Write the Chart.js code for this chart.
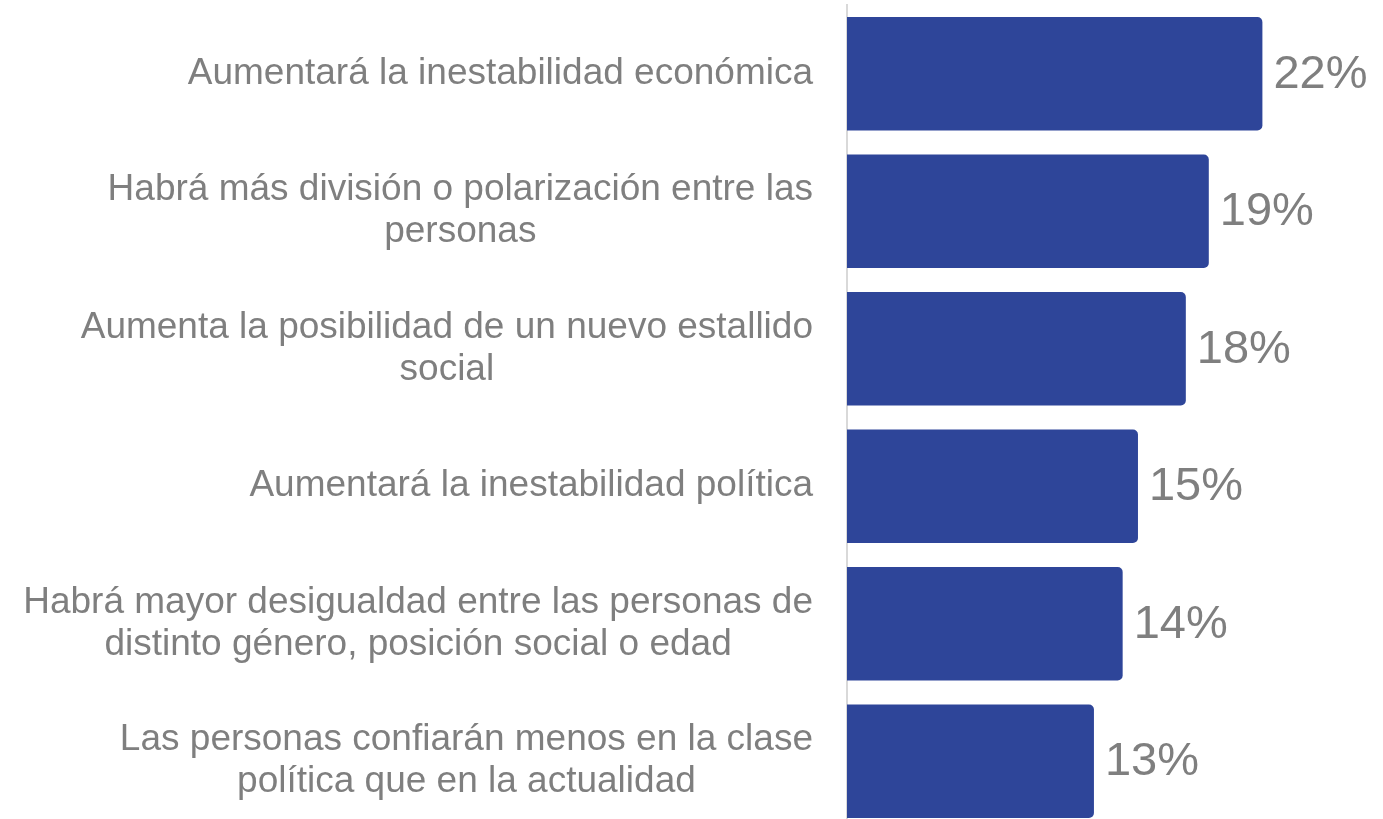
<!DOCTYPE html>
<html>
<head>
<meta charset="utf-8">
<script src="https://cdn.jsdelivr.net/npm/chart.js@4.4.1/dist/chart.umd.min.js"></script>
<style>
  html, body { margin: 0; padding: 0; background: #ffffff; overflow: hidden; }
  canvas { display: block; }
</style>
</head>
<body>
<canvas id="c" width="1383" height="830"></canvas>
<script>
const categories = [
  ["Aumentará la inestabilidad económica"],
  ["Habrá más división o polarización entre las", "personas"],
  ["Aumenta la posibilidad de un nuevo estallido", "social"],
  ["Aumentará la inestabilidad política"],
  ["Habrá mayor desigualdad entre las personas de", "distinto género, posición social o edad"],
  ["Las personas confiarán menos en la clase", "política que en la actualidad"]
];
const values = [21.7, 18.9, 17.7, 15.2, 14.4, 12.9];
const valueLabels = ["22%", "19%", "18%", "15%", "14%", "13%"];

const BAR_COLOR = "#2E4599";
const TEXT_COLOR = "#7F7F7F";
const CAT_FONT = "37px 'Liberation Sans', Arial, sans-serif";
const VAL_FONT = "47px 'Liberation Sans', Arial, sans-serif";

const labelPlugin = {
  id: "customLabels",
  afterDatasetsDraw(chart) {
    const ctx = chart.ctx;
    const yScale = chart.scales.y;
    const meta = chart.getDatasetMeta(0);
    ctx.save();
    ctx.fillStyle = TEXT_COLOR;
    ctx.font = CAT_FONT;
    ctx.textBaseline = "middle";
    const rightEdge = chart.chartArea.left - 34;
    const lineH = 42;
    categories.forEach((lines, i) => {
      const yc = yScale.getPixelForValue(i);
      const widths = lines.map(l => ctx.measureText(l).width);
      const maxW = Math.max(...widths);
      const cx = rightEdge - maxW / 2;
      ctx.textAlign = "center";
      lines.forEach((l, j) => {
        const y = yc + (j - (lines.length - 1) / 2) * lineH;
        ctx.fillText(l, cx, y);
      });
    });
    ctx.font = VAL_FONT;
    ctx.textAlign = "left";
    meta.data.forEach((bar, i) => {
      ctx.fillText(valueLabels[i], bar.x + 11, bar.y + 1);
    });
    ctx.restore();
  }
};

new Chart(document.getElementById("c"), {
  type: "bar",
  data: {
    labels: categories,
    datasets: [{
      data: values,
      backgroundColor: BAR_COLOR,
      borderRadius: 5,
      borderSkipped: "start",
      categoryPercentage: 1,
      barPercentage: 0.826
    }]
  },
  options: {
    indexAxis: "y",
    responsive: false,
    animation: false,
    layout: { padding: { top: 5, right: 0, bottom: 0, left: 0 } },
    plugins: { legend: { display: false }, tooltip: { enabled: false } },
    scales: {
      x: { display: false, min: 0, max: 28 },
      y: {
        display: true,
        ticks: { display: false },
        grid: { display: false, drawTicks: false },
        border: { display: true, color: "#D9D9D9", width: 2 },
        afterFit(scale) { scale.width = 847; }
      }
    }
  },
  plugins: [labelPlugin]
});
</script>
</body>
</html>
